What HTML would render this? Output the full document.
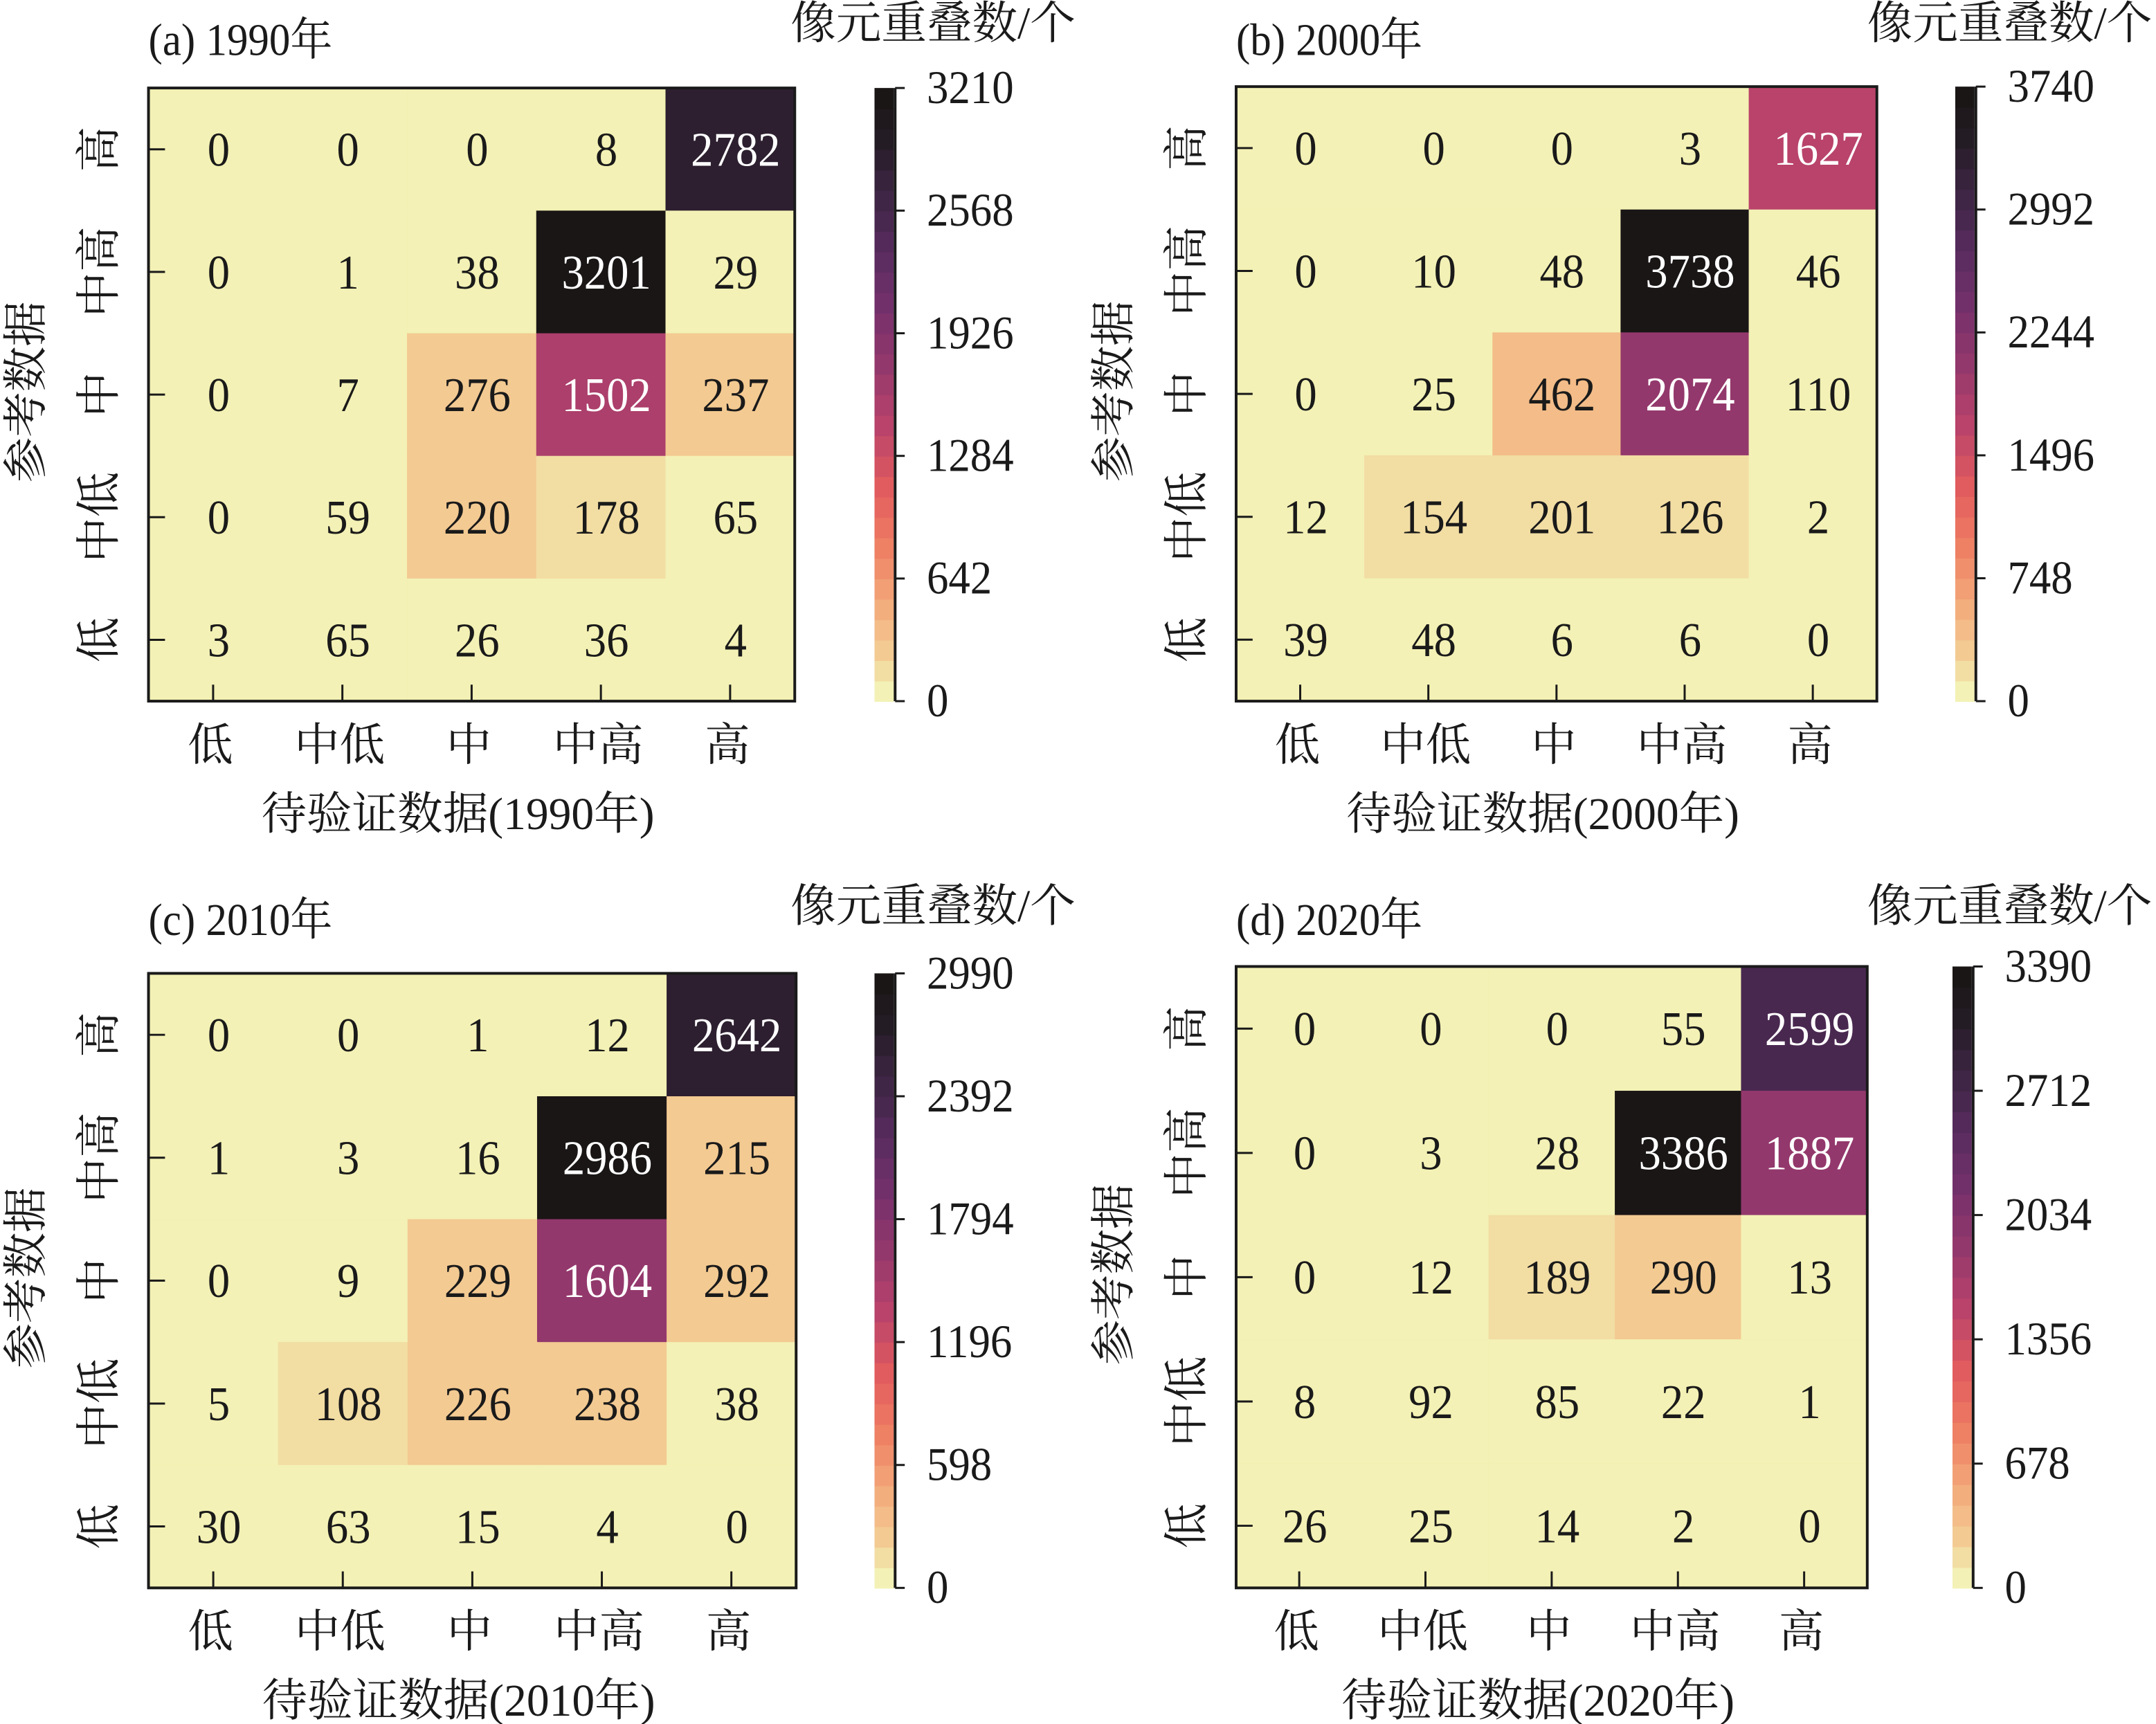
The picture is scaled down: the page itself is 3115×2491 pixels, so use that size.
<!DOCTYPE html>
<html><head><meta charset="utf-8"><style>
html,body{margin:0;padding:0;background:#fff;}
svg{display:block;}
text{font-family:"Liberation Serif","Noto Serif CJK SC",serif;fill:#1a1a1a;}
</style></head><body>
<svg id="chart" width="3115" height="2491" viewBox="0 0 1568 1254" preserveAspectRatio="none" xmlns="http://www.w3.org/2000/svg"></svg>
<script>
const categories = ['低','中低','中','中高','高'];
const rowLabels = ['高','中高','中','中低','低'];
const yearsList = ['1990','2000','2010','2020'];
const panelTags = ['(a)','(b)','(c)','(d)'];
const valuesA = [[0,0,0,8,2782],[0,1,38,3201,29],[0,7,276,1502,237],[0,59,220,178,65],[3,65,26,36,4]];
const valuesB = [[0,0,0,3,1627],[0,10,48,3738,46],[0,25,462,2074,110],[12,154,201,126,2],[39,48,6,6,0]];
const valuesC = [[0,0,1,12,2642],[1,3,16,2986,215],[0,9,229,1604,292],[5,108,226,238,38],[30,63,15,4,0]];
const valuesD = [[0,0,0,55,2599],[0,3,28,3386,1887],[0,12,189,290,13],[8,92,85,22,1],[26,25,14,2,0]];
const colorMaxes = [3210,3740,2990,3390];
const tickCount = 6;

const NS='http://www.w3.org/2000/svg';
const svg=document.getElementById('chart');
function mk(tag,attrs,parent){const e=document.createElementNS(NS,tag);for(const k in attrs)e.setAttribute(k,attrs[k]);(parent||svg).appendChild(e);return e;}
function ctext(x,y,size,anchor,parent){return mk('text',{x:0,y:0,'font-size':size,'text-anchor':anchor,transform:`translate(${x},${y}) scale(0.93,1)`},parent);}
const stops=[[0,[243,241,181]],[0.033,[242,222,164]],[0.067,[243,203,147]],[0.15,[243,169,122]],[0.25,[238,124,98]],[0.35,[224,90,94]],[0.45,[184,67,106]],[0.55,[148,56,108]],[0.65,[116,48,108]],[0.75,[85,43,92]],[0.85,[58,36,64]],[0.93,[36,28,36]],[1,[26,22,22]]];
function cmap(t){t=Math.max(0,Math.min(1,t));for(let i=1;i<stops.length;i++){if(t<=stops[i][0]){const a=stops[i-1],b=stops[i];const f=(t-a[0])/(b[0]-a[0]);const c=a[1].map((v,j)=>Math.round(v+(b[1][j]-v)*f));return `rgb(${c.join(',')})`;}}return 'rgb(26,22,22)';}
const NL=30;
function quant(v,max){let l=Math.floor(v/max*NL);if(l>=NL)l=NL-1;return l/(NL-1);}

const panels=[
 {vals:valuesA,x0:108,x1:578,y0:64,y1:510,cb:636,tagY:40,cbTitleX:575,cbTitleY:28},
 {vals:valuesB,x0:899,x1:1365,y0:63,y1:510,cb:1422,tagY:40,cbTitleX:1358,cbTitleY:28},
 {vals:valuesC,x0:108,x1:579,y0:708,y1:1155,cb:636,tagY:680,cbTitleX:575,cbTitleY:670},
 {vals:valuesD,x0:899,x1:1358,y0:703,y1:1155,cb:1420,tagY:680,cbTitleX:1358,cbTitleY:670}
];
panels.forEach((p,pi)=>{
 const g=mk('g',{});
 
 
 const max=colorMaxes[pi];
 const cw=(p.x1-p.x0)/categories.length, ch=(p.y1-p.y0)/rowLabels.length;
 const xc=i=>p.x0+cw*(i+0.5), yc=r=>p.y0+ch*(r+0.5);
 p.vals.forEach((row,r)=>row.forEach((v,c)=>{
   const t=quant(v,max);
   const rc=mk('rect',{x:p.x0+cw*c,y:p.y0+ch*r,width:cw+0.6,height:ch+0.6,fill:cmap(t)},g);
   
   
   const tx=ctext(xc(c)+4,yc(r)+12,35,'middle',g);
   
   
   if(t>0.35)tx.style.fill='#fff';
   tx.textContent=v;
 }));
 const fr=mk('rect',{x:p.x0,y:p.y0,width:p.x1-p.x0,height:p.y1-p.y0,fill:'none',stroke:'#1a1a1a','stroke-width':2},g);
 
 
 categories.forEach((c,i)=>{
   mk('line',{x1:xc(i),x2:xc(i),y1:p.y1,y2:p.y1-12,stroke:'#1a1a1a','stroke-width':1.5},g);
   const t=mk('text',{x:xc(i)-2,y:p.y1+43,'text-anchor':'middle','font-size':33},g);
   
   
   t.textContent=c;
 });
 rowLabels.forEach((c,r)=>{
   mk('line',{x1:p.x0,x2:p.x0+12,y1:yc(r),y2:yc(r),stroke:'#1a1a1a','stroke-width':1.5},g);
   const t=mk('text',{x:0,y:0,'text-anchor':'middle','font-size':33,transform:`translate(${p.x0-25},${yc(r)}) rotate(-90)`},g);
   
   
   t.textContent=c;
 });
 const yt=mk('text',{x:0,y:0,'text-anchor':'middle','font-size':33,transform:`translate(${p.x0-78},${(p.y0+p.y1)/2-2}) rotate(-90)`},g);
 
 
 yt.textContent='参考数据';
 const xt=mk('text',{x:(p.x0+p.x1)/2-10,y:p.y1+93,'text-anchor':'middle','font-size':33},g);
 
 
 xt.textContent='待验证数据('+yearsList[pi]+'年)';
 const pt=ctext(p.x0,p.tagY,33,'start',g);
 
 
 pt.textContent=panelTags[pi]+' '+yearsList[pi]+'年';
 const ct=mk('text',{x:p.cbTitleX,y:p.cbTitleY,'font-size':33},g);
 
 
 ct.textContent='像元重叠数/个';
 const cbg=mk('g',{},g);
 
 
 const bh=(p.y1-p.y0)/NL;
 for(let l=0;l<NL;l++){
   mk('rect',{x:p.cb,y:p.y1-bh*(l+1),width:14,height:bh+0.5,fill:cmap(l/(NL-1))},cbg);
 }
 mk('line',{x1:p.cb+15,x2:p.cb+15,y1:p.y0,y2:p.y1,stroke:'#1a1a1a','stroke-width':2},cbg);
 for(let k=0;k<tickCount;k++){
   const v=Math.round(max*k/(tickCount-1));
   const y=p.y1-(p.y1-p.y0)*k/(tickCount-1);
   mk('line',{x1:p.cb+15,x2:p.cb+22,y1:y,y2:y,stroke:'#1a1a1a','stroke-width':1.5},cbg);
   const t=ctext(p.cb+38,y+11,34,'start',cbg);
   
   
   t.textContent=v;
 }
});
</script>
</body></html>
